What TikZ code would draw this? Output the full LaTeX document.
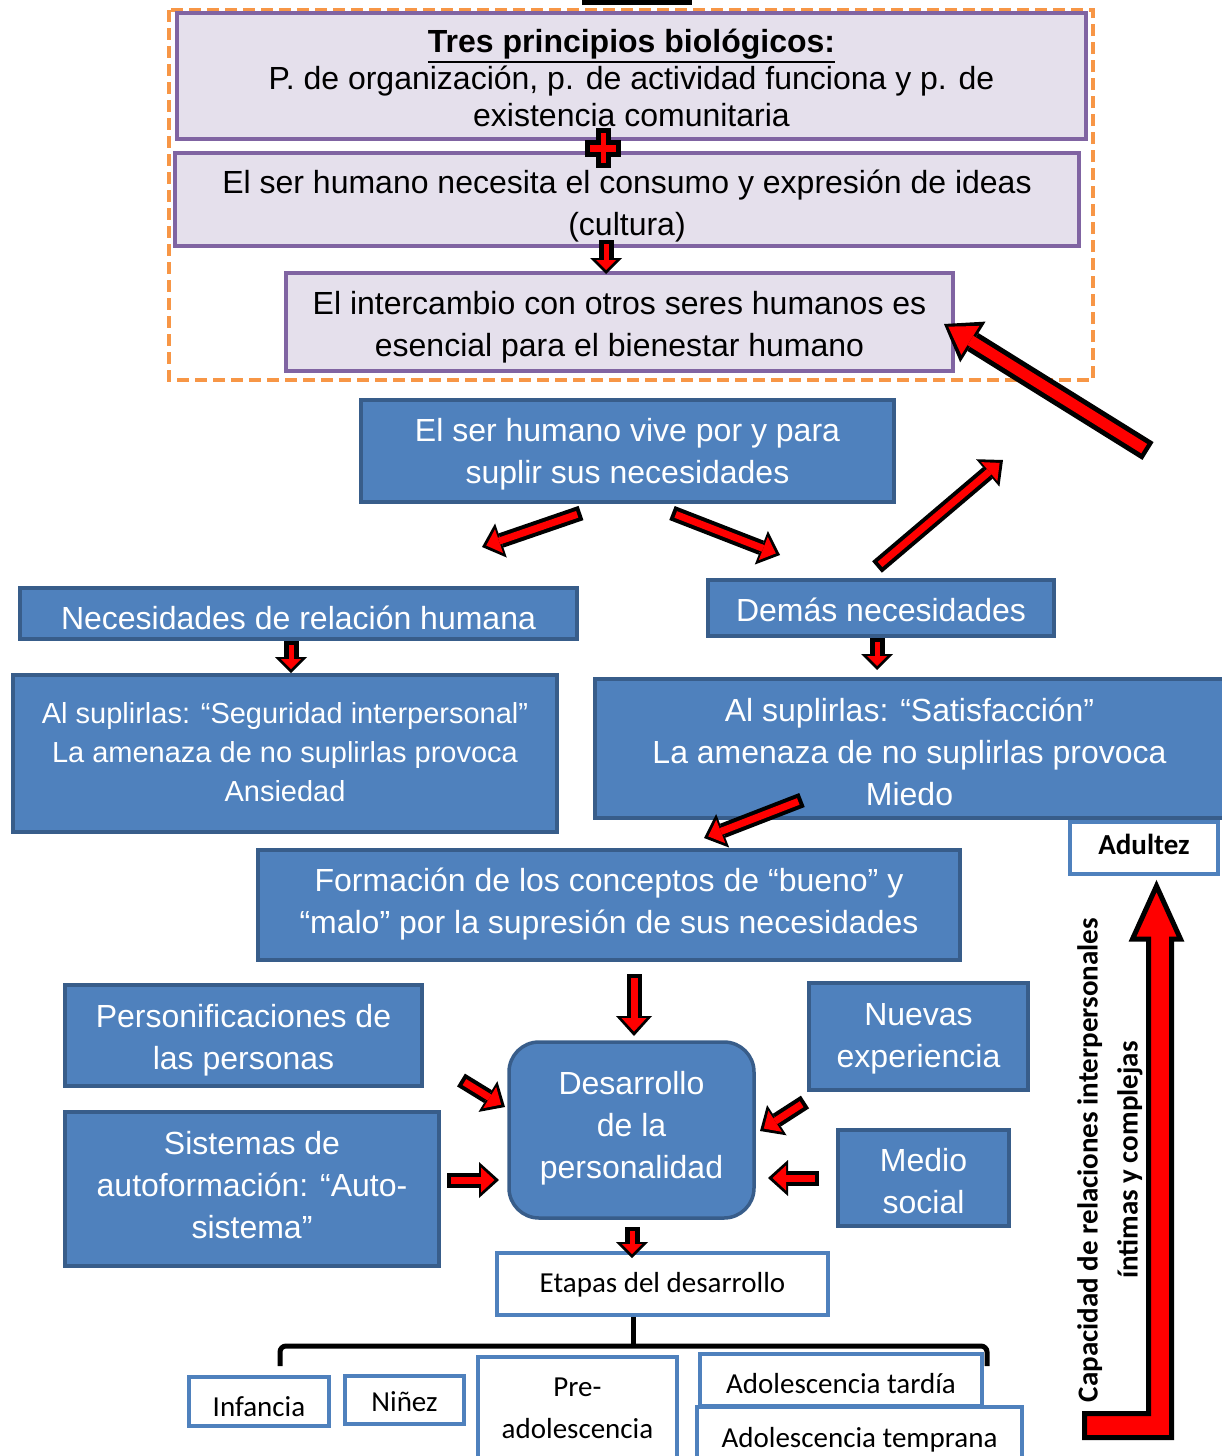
\documentclass[tikz,border=0pt]{standalone}
\usepackage{fontspec}
\setmainfont{Liberation Sans}
\newfontfamily\calibri{Carlito}
\usetikzlibrary{arrows.meta}
\definecolor{boxblue}{HTML}{4F81BD}
\definecolor{boxedge}{HTML}{385D8A}
\definecolor{lilac}{HTML}{E5E0EC}
\definecolor{lilacedge}{HTML}{8064A2}
\definecolor{dashorange}{HTML}{F79646}
\newcommand{\thickul}[1]{\vtop{\hbox{#1}\kern1.5pt\hrule height 2.5pt}}
\begin{document}
\begin{tikzpicture}[x=1pt,y=-1pt]
    \tikzstyle{every node}=[inner sep=0pt,align=center]
    \tikzstyle{lilacbox}=[rectangle,draw=lilacedge,fill=lilac,line width=4pt,font=\fontsize{32}{42}\selectfont]
    \tikzstyle{bluebox}=[rectangle,draw=boxedge,fill=boxblue,line width=3.5pt,text=white,font=\fontsize{32}{42}\selectfont]
    \tikzstyle{whitebox}=[rectangle,draw=boxblue,fill=white,line width=4pt,font=\calibri\fontsize{29}{42}\selectfont]
    \tikzstyle{dropby}=[text height=#1,text depth=0pt]
    \tikzstyle{smallarrow}=[draw=black,line width=15pt,-{Triangle[length=16pt,width=32pt,line width=0pt]},
        postaction={draw=red,line width=5pt,shorten <=4pt,shorten >=4pt,-{Triangle[length=10pt,width=20pt,line width=0pt]}}]
    \tikzstyle{redarrow}=[draw=black,line width=15pt,-{Triangle[length=20pt,width=36pt,line width=0pt]},
        postaction={draw=red,line width=7pt,shorten <=4pt,shorten >=4.5pt,-{Triangle[length=13.5pt,width=25pt,line width=0pt]}}]
    \tikzstyle{bigarrow}=[draw=black,line width=21pt,-{Triangle[length=34pt,width=48pt,line width=0pt]},
        postaction={draw=red,line width=11pt,shorten <=4.5pt,shorten >=5pt,-{Triangle[length=26pt,width=34pt,line width=0pt]}}]
    \useasboundingbox (0,0) rectangle (1222,1456);
    \fill (582,0) rectangle (692,5);
    \draw[dashorange,line width=4pt,dash pattern=on 12pt off 6pt] (169,10) rectangle (1093,380);
    %%%%% top block
    \draw (631.5,76) node[lilacbox,dropby=101pt,minimum width=909,minimum height=126,font=\fontsize{32}{37}\selectfont] (1)
        {\thickul{\textbf{Tres principios biológicos:}}\\P. de organización, p. de actividad funciona y p. de\\existencia comunitaria};
    \draw (627,199.5) node[lilacbox,dropby=72pt,minimum width=904,minimum height=93] (2)
        {El ser humano necesita el consumo y expresión de ideas\\(cultura)};
    \draw[fill=red,line width=5pt] (598,130.5) -- (608,130.5) -- (608,142) -- (618.5,142) -- (618.5,154) -- (608,154)
        -- (608,165.5) -- (598,165.5) -- (598,154) -- (587.5,154) -- (587.5,142) -- (598,142) -- cycle;
    \draw (619.5,322) node[lilacbox,dropby=69pt,minimum width=667,minimum height=98] (3)
        {El intercambio con otros seres humanos es\\esencial para el bienestar humano};
    %%%%% needs
    \draw (627.5,451) node[bluebox,dropby=65pt,minimum width=533,minimum height=102] (4) {El ser humano vive por y para\\suplir sus necesidades};
    \draw (298.5,613.5) node[bluebox,dropby=32pt,minimum width=557,minimum height=51] (5) {Necesidades de relación humana};
    \draw (881,608) node[bluebox,dropby=27pt,minimum width=346,minimum height=56] (6) {Demás necesidades};
    \draw (285,753.5) node[bluebox,dropby=95.8pt,minimum width=544,minimum height=157,font=\fontsize{29}{39}\selectfont] (7)
        {Al suplirlas: “Seguridad interpersonal”\\La amenaza de no suplirlas provoca\\Ansiedad};
    \draw (1144,848) node[whitebox,dropby=13pt,minimum width=148,minimum height=52,font=\calibri\bfseries\fontsize{29}{36}\selectfont] (8) {Adultez};
    \draw (909.5,748.5) node[bluebox,dropby=114pt,minimum width=629,minimum height=139] (9)
        {Al suplirlas: “Satisfacción”\\La amenaza de no suplirlas provoca\\Miedo};
    \draw (609,905) node[bluebox,dropby=57pt,minimum width=702,minimum height=110] (10)
        {Formación de los conceptos de “bueno” y\\“malo” por la supresión de sus necesidades};
    %%%%% personality
    \draw (243.5,1035.5) node[bluebox,dropby=68pt,minimum width=357,minimum height=101] (11) {Personificaciones de\\las personas};
    \draw (918.5,1036.5) node[bluebox,dropby=62pt,minimum width=219,minimum height=107] (12) {Nuevas\\experiencia};
    \draw (631.5,1130) node[bluebox,dropby=97pt,rounded corners=30pt,minimum width=245,minimum height=176] (13) {Desarrollo\\de la\\personalidad};
    \draw (252,1189) node[bluebox,dropby=99pt,minimum width=374,minimum height=154] (14) {Sistemas de\\autoformación: “Auto-\\sistema”};
    \draw (923.5,1178) node[bluebox,dropby=71pt,minimum width=171,minimum height=96] (15) {Medio\\social};
    %%%%% stages
    \draw (662.5,1284) node[whitebox,dropby=16.6pt,minimum width=331,minimum height=62] (16) {Etapas del desarrollo};
    \draw (259,1401.5) node[whitebox,dropby=29pt,minimum width=140,minimum height=49] (17) {Infancia};
    \draw (404.5,1400) node[whitebox,dropby=23.4pt,minimum width=119,minimum height=48] (18) {Niñez};
    \draw (577.5,1408) node[whitebox,dropby=60.6pt,minimum width=199,minimum height=102] (19) {Pre-\\adolescencia};
    \draw (859.5,1438) node[whitebox,dropby=18.6pt,minimum width=325,minimum height=62] (20) {Adolescencia temprana};
    \draw (841,1380) node[whitebox,dropby=26.6pt,minimum width=282,minimum height=52] (21) {Adolescencia tardía};
    \draw[line width=5pt,rounded corners=6pt] (280,1366) -- (280,1346) -- (987,1346) -- (987,1366);
    \draw[line width=5pt] ([xshift=-29.5pt]16.south) -- ++(0,29);
    %%%%% growth arrow
    \draw[fill=red,line width=5pt] (1084.5,1413.5) -- (1148.5,1413.5) -- (1148.5,939) -- (1132.5,939) -- (1156.5,886)
        -- (1180.5,939) -- (1171.5,939) -- (1171.5,1437.5) -- (1084.5,1437.5) -- cycle;
    \draw (1110,1160) node[rotate=90,font=\calibri\bfseries\fontsize{29}{40}\selectfont] (22)
        {Capacidad de relaciones interpersonales\\íntimas y complejas};
    %%%%% arrow ends
    \coordinate (a1) at (606,240);   \coordinate (a2) at (606,274);
    \coordinate (b1) at (1148,451);  \coordinate (b2) at (944,324);
    \coordinate (c1) at (581,513);   \coordinate (c2) at (482,547);
    \coordinate (d1) at (672,513);   \coordinate (d2) at (780,555);
    \coordinate (e1) at (877,567);   \coordinate (e2) at (1003,460);
    \coordinate (f1) at (291,641);   \coordinate (f2) at (291,673);
    \coordinate (g1) at (877,638);   \coordinate (g2) at (877,670);
    \coordinate (h1) at (802,800);   \coordinate (h2) at (704,838);
    \coordinate (i1) at (634,974);   \coordinate (i2) at (634,1036);
    \coordinate (j1) at (461,1080);  \coordinate (j2) at (505,1107);
    \coordinate (k1) at (447,1180);  \coordinate (k2) at (499,1180);
    \coordinate (l1) at (805,1102);  \coordinate (l2) at (760,1131);
    \coordinate (m1) at (819,1178);  \coordinate (m2) at (768,1178);
    \coordinate (n1) at (632,1227);  \coordinate (n2) at (632,1258);
    \draw[smallarrow] (a1) -- (a2);
    \draw[bigarrow] (b1) -- (b2);
    \draw[redarrow] (c1) -- (c2);
    \draw[redarrow] (d1) -- (d2);
    \draw[redarrow] (e1) -- (e2);
    \draw[smallarrow] (f1) -- (f2);
    \draw[smallarrow] (g1) -- (g2);
    \draw[redarrow] (h1) -- (h2);
    \draw[redarrow] (i1) -- (i2);
    \draw[redarrow] (j1) -- (j2);
    \draw[redarrow] (k1) -- (k2);
    \draw[redarrow] (l1) -- (l2);
    \draw[redarrow] (m1) -- (m2);
    \draw[smallarrow] (n1) -- (n2);
\end{tikzpicture}
\end{document}
